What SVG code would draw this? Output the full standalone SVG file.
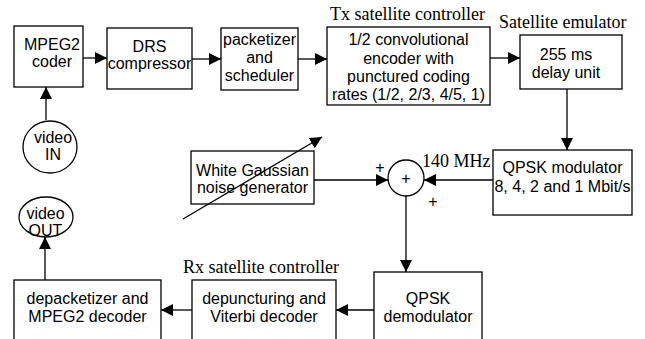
<svg xmlns="http://www.w3.org/2000/svg" width="645" height="339" viewBox="0 0 645 339">
<style>
.box{fill:#fff;stroke:#000;stroke-width:1.3}
.ln{fill:none;stroke:#000;stroke-width:1.3}
.t{font-family:"Liberation Sans",Arial,sans-serif;font-size:16px;fill:#000;text-anchor:middle}
.s{font-family:"Liberation Serif","Times New Roman",serif;font-size:18px;fill:#000}
</style>
<defs>
<marker id="ah" markerWidth="12" markerHeight="12" refX="12" refY="6" orient="auto" markerUnits="userSpaceOnUse">
<path d="M0,0 L12,6 L0,12 z" fill="#000"/>
</marker>
</defs>
<rect width="645" height="339" fill="#fff"/>
<g id="connectors">
<line class="ln" x1="83" y1="58" x2="107" y2="58" marker-end="url(#ah)"/>
<line class="ln" x1="192" y1="59" x2="221" y2="59" marker-end="url(#ah)"/>
<line class="ln" x1="298" y1="59" x2="327" y2="59" marker-end="url(#ah)"/>
<line class="ln" x1="490" y1="58" x2="520" y2="58" marker-end="url(#ah)"/>
<line class="ln" x1="567" y1="89" x2="567" y2="150" marker-end="url(#ah)"/>
<line class="ln" x1="46" y1="120" x2="46" y2="87" marker-end="url(#ah)"/>
<line class="ln" x1="495" y1="180" x2="424" y2="180" marker-end="url(#ah)"/>
<line class="ln" x1="314" y1="180" x2="388" y2="180" marker-end="url(#ah)"/>
<line class="ln" x1="406" y1="196" x2="406" y2="272" marker-end="url(#ah)"/>
<line class="ln" x1="374" y1="310" x2="336" y2="310" marker-end="url(#ah)"/>
<line class="ln" x1="192" y1="310" x2="161" y2="310" marker-end="url(#ah)"/>
<line class="ln" x1="45" y1="280" x2="45" y2="237" marker-end="url(#ah)"/>
</g>
<g id="mpeg2coder"><rect class="box" x="14" y="26" width="69" height="61"/><text class="t" x="52" y="50">MPEG2</text><text class="t" x="52" y="67">coder</text></g>
<g id="drs"><rect class="box" x="107" y="28" width="85" height="61"/><text class="t" x="149.5" y="52">DRS</text><text class="t" x="149.5" y="69">compressor</text></g>
<g id="packetizer"><rect class="box" x="221" y="28" width="77" height="62"/><text class="t" x="259.5" y="45">packetizer</text><text class="t" x="259.5" y="63">and</text><text class="t" x="259.5" y="81">scheduler</text></g>
<g id="tx"><text class="s" x="330" y="20">Tx satellite controller</text><rect class="box" x="327" y="27" width="163" height="78"/><text class="t" x="408.5" y="45">1/2 convolutional</text><text class="t" x="408.5" y="64">encoder with</text><text class="t" x="408.5" y="82">punctured coding</text><text class="t" x="408.5" y="100">rates (1/2, 2/3, 4/5, 1)</text></g>
<g id="delay"><text class="s" x="499" y="28">Satellite emulator</text><rect class="box" x="520" y="35" width="102" height="54"/><text class="t" x="566" y="60">255 ms</text><text class="t" x="566" y="78">delay unit</text></g>
<g id="videoin"><ellipse class="box" cx="50" cy="147" rx="27" ry="26"/><text class="t" x="53" y="143">video</text><text class="t" x="53" y="160">IN</text></g>
<g id="qpskmod"><rect class="box" x="493" y="150" width="139" height="65"/><text class="t" x="562.5" y="173">QPSK modulator</text><text class="t" x="562.5" y="192">8, 4, 2 and 1 Mbit/s</text></g>
<g id="noise"><rect class="box" x="191" y="151" width="123" height="53"/><text class="t" x="252.5" y="176">White Gaussian</text><text class="t" x="252.5" y="193">noise generator</text><line class="ln" x1="183" y1="219" x2="322" y2="137" marker-end="url(#ah)"/></g>
<g id="adder"><circle class="box" cx="406" cy="178" r="18"/><text class="t" x="406" y="184">+</text><text class="t" x="380" y="173">+</text><text class="t" x="433" y="207">+</text><text class="s" x="422" y="167">140 MHz</text></g>
<g id="videoout"><ellipse class="box" cx="46" cy="217" rx="27" ry="20"/><text class="t" x="45.5" y="219">video</text><text class="t" x="45.5" y="236">OUT</text></g>
<g id="depack"><rect class="box" x="14" y="280" width="147" height="70"/><text class="t" x="87.5" y="304">depacketizer and</text><text class="t" x="87.5" y="322">MPEG2 decoder</text></g>
<g id="depunct"><text class="s" x="183" y="273">Rx satellite controller</text><rect class="box" x="192" y="280" width="144" height="70"/><text class="t" x="264" y="304">depuncturing and</text><text class="t" x="264" y="322">Viterbi decoder</text></g>
<g id="qpskdemod"><rect class="box" x="374" y="272" width="108" height="78"/><text class="t" x="428" y="304">QPSK</text><text class="t" x="428" y="322">demodulator</text></g>
</svg>
